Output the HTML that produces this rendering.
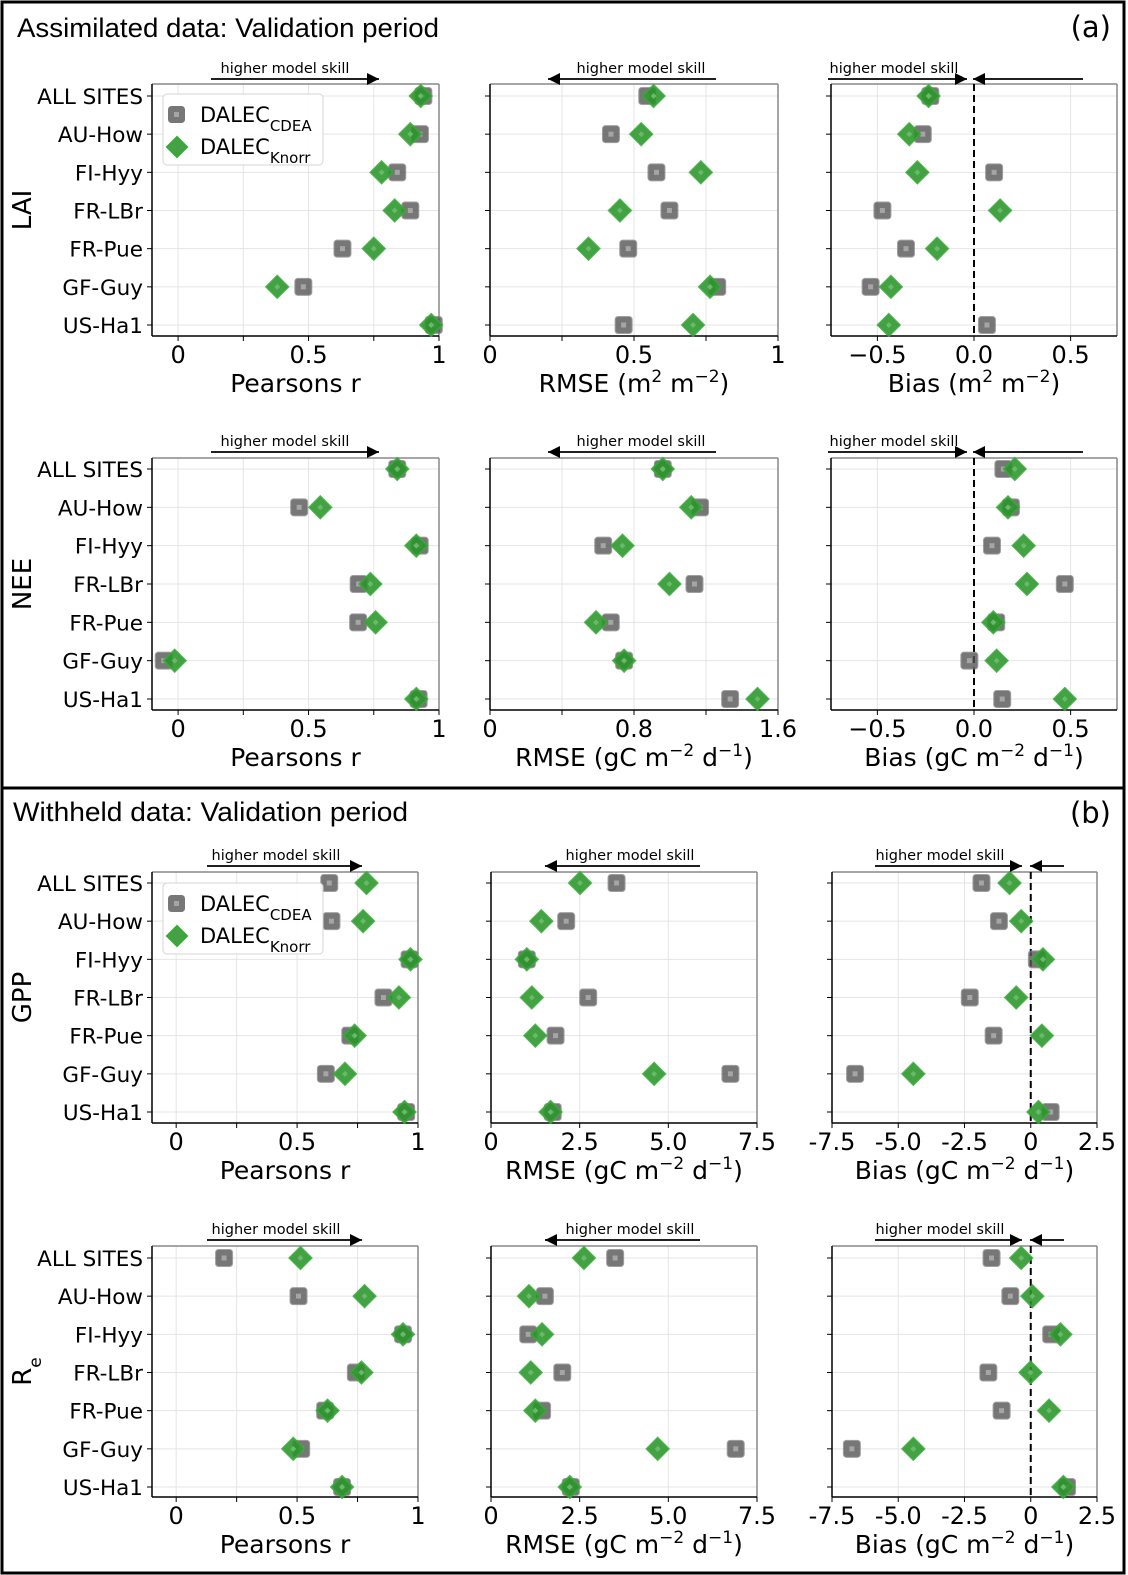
<!DOCTYPE html>
<html><head><meta charset="utf-8"><style>
html,body{margin:0;padding:0;background:#fff}
svg{display:block}
</style></head><body>
<svg id="fig" xmlns="http://www.w3.org/2000/svg" width="1128" height="1575" viewBox="0 0 1128 1575">
<rect x="0" y="0" width="1128" height="1575" fill="#fff"/>
<rect x="2" y="2" width="1122" height="1571" fill="none" stroke="#000" stroke-width="3"/>
<line x1="2" y1="788" x2="1124" y2="788" stroke="#000" stroke-width="3"/>
<text x="17" y="37" font-family="Liberation Sans, sans-serif" font-size="27" textLength="422" lengthAdjust="spacingAndGlyphs">Assimilated data: Validation period</text>
<text x="1111" y="37" text-anchor="end" font-family="DejaVu Sans, sans-serif" font-size="29">(a)</text>
<text x="13" y="821" font-family="Liberation Sans, sans-serif" font-size="27" textLength="395" lengthAdjust="spacingAndGlyphs">Withheld data: Validation period</text>
<text x="1111" y="823" text-anchor="end" font-family="DejaVu Sans, sans-serif" font-size="29">(b)</text>
<g id="plots"></g>
</svg>
<script>
// ---- data ----
const sites = ["ALL SITES","AU-How","FI-Hyy","FR-LBr","FR-Pue","GF-Guy","US-Ha1"];
// LAI (assimilated)
const laiRCdea   = [0.94,0.927,0.84,0.89,0.63,0.48,0.98];
const laiRKnorr  = [0.93,0.89,0.78,0.83,0.75,0.38,0.97];
const laiRmseCdea  = [0.546,0.42,0.578,0.623,0.48,0.789,0.464];
const laiRmseKnorr = [0.568,0.525,0.732,0.451,0.342,0.764,0.705];
const laiBiasCdea  = [-0.226,-0.265,0.104,-0.474,-0.352,-0.535,0.067];
const laiBiasKnorr = [-0.235,-0.335,-0.293,0.135,-0.191,-0.43,-0.441];
// NEE (assimilated)
const neeRCdea   = [0.84,0.464,0.926,0.692,0.69,-0.055,0.922];
const neeRKnorr  = [0.84,0.545,0.913,0.737,0.757,-0.013,0.913];
const neeRmseCdea  = [0.96,1.167,0.629,1.136,0.671,0.745,1.334];
const neeRmseKnorr = [0.96,1.118,0.736,0.997,0.589,0.745,1.486];
const neeBiasCdea  = [0.152,0.191,0.093,0.47,0.115,-0.024,0.146];
const neeBiasKnorr = [0.211,0.176,0.257,0.274,0.1,0.117,0.47];
// GPP (withheld)
const gppRCdea   = [0.633,0.642,0.965,0.857,0.72,0.619,0.951];
const gppRKnorr  = [0.787,0.773,0.969,0.921,0.738,0.698,0.944];
const gppRmseCdea  = [3.54,2.12,1.01,2.74,1.82,6.75,1.74];
const gppRmseKnorr = [2.51,1.42,1.01,1.15,1.25,4.6,1.68];
const gppBiasCdea  = [-1.86,-1.2,0.23,-2.3,-1.4,-6.63,0.75];
const gppBiasKnorr = [-0.8,-0.36,0.46,-0.55,0.42,-4.43,0.29];
// Re (withheld)
const reRCdea   = [0.198,0.506,0.938,0.743,0.616,0.517,0.686];
const reRKnorr  = [0.514,0.779,0.938,0.766,0.626,0.484,0.686];
const reRmseCdea  = [3.5,1.52,1.05,2.01,1.44,6.9,2.25];
const reRmseKnorr = [2.62,1.07,1.44,1.12,1.25,4.7,2.22];
const reBiasCdea  = [-1.48,-0.77,0.77,-1.6,-1.1,-6.75,1.37];
const reBiasKnorr = [-0.36,0.06,1.12,-0.01,0.69,-4.43,1.23];
// tick labels
const rTicks = [0,0.5,1];
const rTickLabels = ["0","0.5","1"];
const laiRmseTicks = [0,0.5,1];
const laiRmseTickLabels = ["0","0.5","1"];
const neeRmseTicks = [0,0.8,1.6];
const neeRmseTickLabels = ["0","0.8","1.6"];
const biasATicks = [-0.5,0,0.5];
const biasATickLabels = ["\u22120.5","0.0","0.5"];
const rmseBTicks = [0,2.5,5,7.5];
const rmseBTickLabels = ["0","2.5","5.0","7.5"];
const biasBTicks = [-7.5,-5,-2.5,0,2.5];
const biasBTickLabels = ["-7.5","-5.0","-2.5","0","2.5"];

// ---- layout ----
const NS = "http://www.w3.org/2000/svg";
const root = document.getElementById('plots');
const rows = [
  {top:84, bot:336, c0:96, c1:325, label:"LAI", sub:null},
  {top:458, bot:710, c0:469, c1:699, label:"NEE", sub:null},
  {top:872, bot:1123, c0:883, c1:1112, label:"GPP", sub:null},
  {top:1246, bot:1497, c0:1258, c1:1487, label:"R", sub:"e"}
];
const colsA = [{l:152,r:439},{l:490,r:778},{l:831,r:1117}];
const colsB = [{l:152,r:418},{l:491,r:757},{l:832,r:1097}];

function mk(tag, attrs, parent){
  const e = document.createElementNS(NS, tag);
  for(const k in attrs) e.setAttribute(k, attrs[k]);
  (parent||root).appendChild(e);
  return e;
}
const TF = "DejaVu Sans, sans-serif";

function drawArrow(g, x1, x2, y, headAt){
  const l = mk('line',{x1:x1,y1:y,x2:x2,y2:y,stroke:'#000','stroke-width':1.8},g);
  
  
  const tip = headAt==='right'?x2:x1;
  const d = headAt==='right'?-12:12;
  const p = mk('polygon',{points:`${tip},${y} ${tip+d},${y-6} ${tip+d},${y+6}`,fill:'#000'},g);
  
  
}
function skillText(g, x, y){
  const t = mk('text',{x:x,y:y,'text-anchor':'middle','font-family':TF,'font-size':14.5},g);
  t.textContent = "higher model skill";
  
  
}

function panel(rowIdx, col, xmin, xmax, ticks, tickLabels, minor, cdea, knorr, titleParts, showY, arrows, zeroLine){
  const R = rows[rowIdx];
  const g = mk('g',{});
  
  
  const sx = v => col.l + (v - xmin)/(xmax - xmin)*(col.r - col.l);
  const sy = i => R.c0 + i*(R.c1 - R.c0)/(sites.length-1);
  const gridVals = ticks.concat(minor);
  gridVals.forEach(v=>{
    const x = sx(v);
    if(x<=col.l+0.5||x>=col.r-0.5) return;
    const l = mk('line',{x1:x,y1:R.top,x2:x,y2:R.bot,stroke:'#e5e5e5','stroke-width':1},g);
    
    
  });
  sites.forEach((s,i)=>{
    const l = mk('line',{x1:col.l,y1:sy(i),x2:col.r,y2:sy(i),stroke:'#e5e5e5','stroke-width':1},g);
    
    
  });
  const st = mk('line',{x1:col.l,y1:R.top,x2:col.r,y2:R.top,stroke:'#888','stroke-width':1.5},g);
   
  const sr = mk('line',{x1:col.r,y1:R.top,x2:col.r,y2:R.bot,stroke:'#888','stroke-width':1.5},g);
   
  const sl = mk('line',{x1:col.l,y1:R.top,x2:col.l,y2:R.bot,stroke:'#000','stroke-width':1.5},g);
   
  const sb = mk('line',{x1:col.l,y1:R.bot,x2:col.r,y2:R.bot,stroke:'#000','stroke-width':1.5},g);
   
  if(zeroLine){
    const z = mk('line',{x1:sx(0),y1:R.top,x2:sx(0),y2:R.bot,stroke:'#000','stroke-width':2,'stroke-dasharray':'7,4'},g);
    
    
  }
  ticks.concat(minor).forEach(v=>{
    const x = sx(v);
    const t = mk('line',{x1:x,y1:R.bot,x2:x,y2:R.bot+5,stroke:'#000','stroke-width':1},g);
    
    
  });
  ticks.forEach((v,i)=>{
    const t = mk('text',{x:sx(v),y:R.bot+27,'text-anchor':'middle','font-family':TF,'font-size':24},g);
    t.textContent = tickLabels[i];
    
    
  });
  const xt = mk('text',{x:(col.l+col.r)/2,y:R.bot+56,'text-anchor':'middle','font-family':TF,'font-size':25},g);
  
  
  titleParts.forEach((p,i)=>{
    const ts = mk('tspan',{},xt);
    if(i%2===1){ ts.setAttribute('baseline-shift','super'); ts.setAttribute('font-size','17'); }
    ts.textContent = p;
  });
  sites.forEach((s,i)=>{
    const t = mk('line',{x1:col.l-5,y1:sy(i),x2:col.l,y2:sy(i),stroke:'#000','stroke-width':1},g);
    
    
    if(showY){
      const lb = mk('text',{x:col.l-9,y:sy(i)+8,'text-anchor':'end','font-family':TF,'font-size':21.5},g);
      lb.textContent = s;
      
      
    }
  });
  cdea.forEach((v,i)=>{
    const x = sx(v), y = sy(i);
    const m = mk('rect',{x:x-8,y:y-8,width:16,height:16,rx:2.5,fill:'#555','fill-opacity':0.8,stroke:'#777','stroke-opacity':0.7,'stroke-width':2},g);
    
    
    const c = mk('rect',{x:x-2.5,y:y-2.5,width:5,height:5,fill:'#a5a5a5'},g);
    
    
  });
  knorr.forEach((v,i)=>{
    const x = sx(v), y = sy(i);
    const m = mk('polygon',{points:`${x},${y-11} ${x+11},${y} ${x},${y+11} ${x-11},${y}`,fill:'#2a942a','fill-opacity':0.88,stroke:'#3aa83a','stroke-opacity':0.85,'stroke-width':2},g);
    
    
    const c = mk('polygon',{points:`${x},${y-3} ${x+3},${y} ${x},${y+3} ${x-3},${y}`,fill:'#66bb66'},g);
    
    
  });
  arrows.forEach(a=>{ drawArrow(g, a[0], a[1], a[2], a[3]); });
  return g;
}

function rowLabel(rowIdx){
  const R = rows[rowIdx];
  const cy = (R.top+R.bot)/2;
  const t = mk('text',{x:0,y:0,'text-anchor':'middle','font-family':TF,'font-size':26,transform:`translate(31,${cy}) rotate(-90)`});
  
  
  const a = mk('tspan',{},t); a.textContent = R.label;
  if(R.sub){ const b = mk('tspan',{'baseline-shift':'sub','font-size':17},t); b.textContent = R.sub; }
}

function legend(x, y){
  const g = mk('g',{});
  
  
  const b = mk('rect',{x:x,y:y,width:160,height:71,rx:4,fill:'#fff','fill-opacity':0.9,stroke:'#d5d5d5','stroke-width':1},g);
   
  const sq = mk('rect',{x:x+6,y:y+13,width:15,height:15,rx:2.5,fill:'#555','fill-opacity':0.8,stroke:'#777','stroke-width':2},g);
   
  const sc = mk('rect',{x:x+11,y:y+18,width:5,height:5,fill:'#a5a5a5'},g);
   
  const t1 = mk('text',{x:x+37,y:y+28,'font-family':TF,'font-size':21},g);
   
  mk('tspan',{},t1).textContent = "DALEC";
  const s1 = mk('tspan',{'baseline-shift':'sub','font-size':15},t1); s1.textContent = "CDEA";
  const cx = x+14, cy = y+53;
  const dm = mk('polygon',{points:`${cx},${cy-10} ${cx+10},${cy} ${cx},${cy+10} ${cx-10},${cy}`,fill:'#2a942a','fill-opacity':0.88,stroke:'#3aa83a','stroke-width':2},g);
   
  const t2 = mk('text',{x:x+37,y:y+60,'font-family':TF,'font-size':21},g);
   
  mk('tspan',{},t2).textContent = "DALEC";
  const s2 = mk('tspan',{'baseline-shift':'sub','font-size':15},t2); s2.textContent = "Knorr";
}

const rMinor = [0.25,0.75];
panel(0, colsA[0], -0.1, 1, rTicks, rTickLabels, rMinor, laiRCdea, laiRKnorr, ["Pearsons r"], true, [[211,379,79,'right']], false);
panel(0, colsA[1], 0, 1, laiRmseTicks, laiRmseTickLabels, [0.25,0.75], laiRmseCdea, laiRmseKnorr, ["RMSE (m","2"," m","\u22122",")"], false, [[548,716,79,'left']], false);
panel(0, colsA[2], -0.74, 0.74, biasATicks, biasATickLabels, [], laiBiasCdea, laiBiasKnorr, ["Bias (m","2"," m","\u22122",")"], false, [[828,967,79,'right'],[973,1083,79,'left']], true);
panel(1, colsA[0], -0.1, 1, rTicks, rTickLabels, rMinor, neeRCdea, neeRKnorr, ["Pearsons r"], true, [[211,379,452,'right']], false);
panel(1, colsA[1], 0, 1.6, neeRmseTicks, neeRmseTickLabels, [0.4,1.2], neeRmseCdea, neeRmseKnorr, ["RMSE (gC m","\u22122"," d","\u22121",")"], false, [[548,716,452,'left']], false);
panel(1, colsA[2], -0.74, 0.74, biasATicks, biasATickLabels, [], neeBiasCdea, neeBiasKnorr, ["Bias (gC m","\u22122"," d","\u22121",")"], false, [[828,967,452,'right'],[973,1083,452,'left']], true);
panel(2, colsB[0], -0.1, 1, rTicks, rTickLabels, rMinor, gppRCdea, gppRKnorr, ["Pearsons r"], true, [[207,362,866,'right']], false);
panel(2, colsB[1], 0, 7.5, rmseBTicks, rmseBTickLabels, [], gppRmseCdea, gppRmseKnorr, ["RMSE (gC m","\u22122"," d","\u22121",")"], false, [[545,700,866,'left']], false);
panel(2, colsB[2], -7.5, 2.5, biasBTicks, biasBTickLabels, [], gppBiasCdea, gppBiasKnorr, ["Bias (gC m","\u22122"," d","\u22121",")"], false, [[875,1022,866,'right'],[1030,1064,866,'left']], true);
panel(3, colsB[0], -0.1, 1, rTicks, rTickLabels, rMinor, reRCdea, reRKnorr, ["Pearsons r"], true, [[207,362,1240,'right']], false);
panel(3, colsB[1], 0, 7.5, rmseBTicks, rmseBTickLabels, [], reRmseCdea, reRmseKnorr, ["RMSE (gC m","\u22122"," d","\u22121",")"], false, [[545,700,1240,'left']], false);
panel(3, colsB[2], -7.5, 2.5, biasBTicks, biasBTickLabels, [], reBiasCdea, reBiasKnorr, ["Bias (gC m","\u22122"," d","\u22121",")"], false, [[875,1022,1240,'right'],[1030,1064,1240,'left']], true);

[[285,73],[641,73],[894,73],[285,446],[641,446],[894,446],[276,860],[630,860],[940,860],[276,1234],[630,1234],[940,1234]].forEach(p=>{
  const g = mk('g',{});
  
  
  skillText(g, p[0], p[1]);
});
[0,1,2,3].forEach(rowLabel);
legend(163, 94);
legend(163, 883);
</script>
</body></html>
